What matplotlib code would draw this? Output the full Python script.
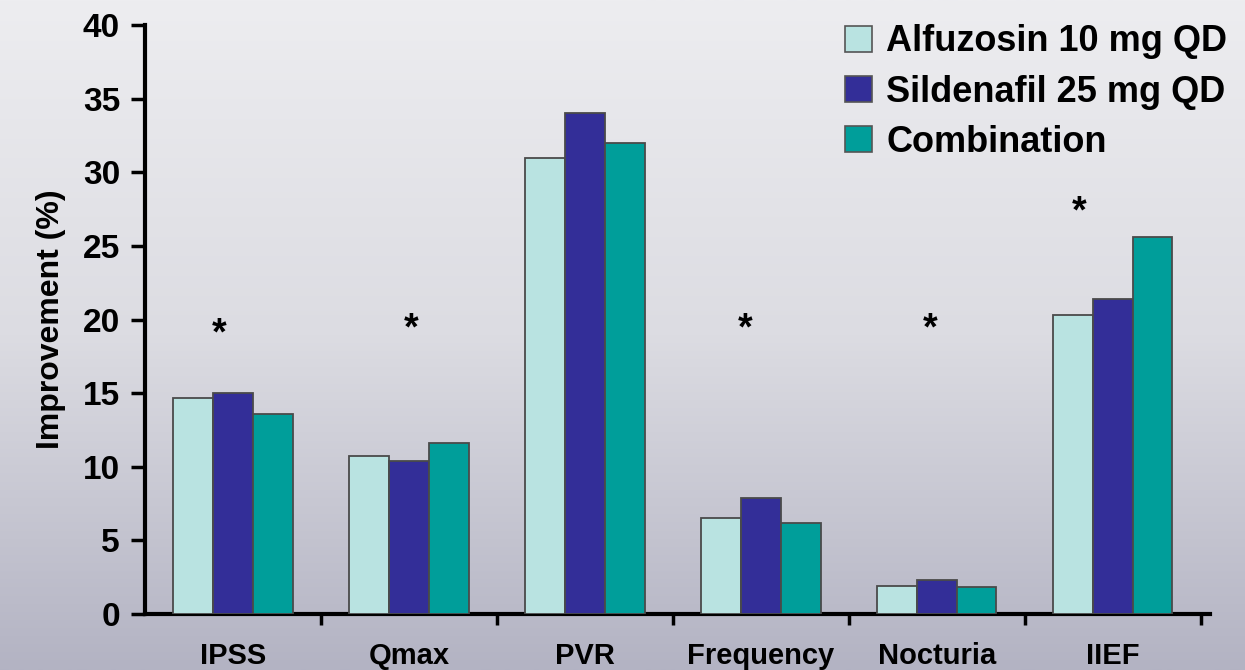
import numpy as np
import matplotlib.pyplot as plt
from matplotlib.patches import Patch
from matplotlib.colors import LinearSegmentedColormap

plt.rcParams['font.family'] = ['Liberation Sans', 'DejaVu Sans']
plt.rcParams['font.weight'] = 'bold'

categories = ['IPSS', 'Qmax', 'PVR', 'Frequency', 'Nocturia', 'IIEF']
alfuzosin = [14.7, 10.7, 31.0, 6.5, 1.9, 20.3]
sildenafil = [15.0, 10.4, 34.0, 7.9, 2.3, 21.4]
combination = [13.6, 11.6, 32.0, 6.2, 1.85, 25.6]
series_names = ['Alfuzosin 10 mg QD', 'Sildenafil 25 mg QD', 'Combination']
colors = ['#b9e3e1', '#332e98', '#009e9a']

# asterisks: (category index, height, shift)
star_cat = [0, 1, 3, 4, 5]
star_y = [19.0, 19.3, 19.3, 19.3, 27.3]
star_dx = [-0.08, 0.01, -0.09, -0.04, -0.19]

fig = plt.figure(figsize=(12.45, 6.7), dpi=100)

# background gradient
bg = fig.add_axes([0, 0, 1, 1], zorder=-10)
grad = np.linspace(0, 1, 256).reshape(-1, 1)
cmap = LinearSegmentedColormap.from_list('bg', ['#ededf0', '#dcdce2', '#b3b3c3'])
bg.imshow(grad, aspect='auto', cmap=cmap, extent=[0, 1, 0, 1])
bg.axis('off')

ax = fig.add_axes([0.1165, 0.0836, 0.855, 0.879])
ax.patch.set_alpha(0)

x = np.arange(len(categories))
w = 0.226
for i, vals in enumerate([alfuzosin, sildenafil, combination]):
    ax.bar(x + (i - 1) * w, vals, w, color=colors[i], edgecolor='#4a4a4a',
           linewidth=1.3, zorder=3)

for c, y, dx in zip(star_cat, star_y, star_dx):
    ax.text(c + dx, y, '*', ha='center', va='center', fontsize=27, fontweight='bold')

ax.set_xlim(-0.5, 5.55)
ax.set_ylim(0, 40)
ax.set_yticks(np.arange(0, 41, 5))
ax.set_xticks(x)
ax.set_xticklabels(categories, fontsize=21, fontweight='bold')
ax.set_xticks(np.arange(0.5, 6, 1), minor=True)
ax.tick_params(axis='x', which='major', length=0, pad=20)
ax.tick_params(axis='x', which='minor', length=8, width=2.5, direction='out')
ax.tick_params(axis='y', length=10, width=2.5, direction='out', labelsize=24, pad=8)
for lbl in ax.get_yticklabels():
    lbl.set_fontweight('bold')

for s in ['top', 'right']:
    ax.spines[s].set_visible(False)
for s in ['left', 'bottom']:
    ax.spines[s].set_linewidth(3)

ax.set_ylabel('Improvement (%)', fontsize=23, fontweight='bold', labelpad=12)

handles = [Patch(facecolor=colors[i], edgecolor='#555555', linewidth=1.2) for i in range(3)]
fig.legend(handles, series_names, loc='upper right', bbox_to_anchor=(1.012, 1.012),
           frameon=False, handlelength=0.75, handleheight=0.75,
           handletextpad=0.4, labelspacing=0.42, prop={'weight': 'bold', 'size': 26})

fig.savefig('out.png', dpi=100)
